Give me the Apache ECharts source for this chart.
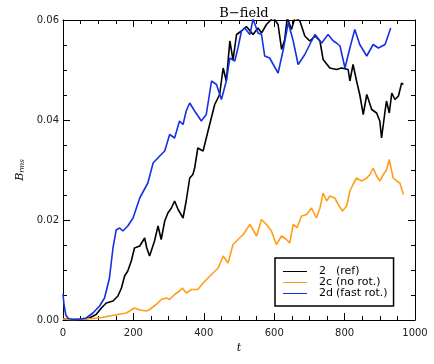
<!DOCTYPE html>
<html>
<head>
<meta charset="utf-8">
<script src="https://cdn.jsdelivr.net/npm/echarts@6/dist/echarts.min.js"></script>
<style>html,body{margin:0;padding:0;background:#fff}#c{width:434px;height:364px}</style>
</head>
<body>
<div id="c"></div>
<script>
// ---- data ----
var seriesNames = ['2', '2c', '2d'];
var seriesNotes = ['(ref)', '(no rot.)', '(fast rot.)'];
var xTicks = [0, 200, 400, 600, 800, 1000];
var yTicks = [0.00, 0.02, 0.04, 0.06];

var refT = [0,20,40,60,75,94,109,123,142,156,166,175,184,194,203,218,232,238,246,260,270,279,289,298,308,317,327,341,350,360,369,374,383,398,412,431,445,455,464,474,483,493,507,521,540,554,564,578,597,611,621,630,637,649,659,673,687,701,716,730,739,758,777,791,810,815,824,834,843,853,863,877,891,900,905,915,919,927,934,943,953,962,967];
var refB = [0.0002,0.0001,0.0001,0.0002,0.0004,0.0011,0.0024,0.0034,0.0038,0.0048,0.0064,0.0088,0.0098,0.0118,0.0144,0.0148,0.0164,0.0144,0.0128,0.0158,0.0188,0.0161,0.0198,0.0214,0.0224,0.0238,0.0221,0.0204,0.0238,0.0284,0.0291,0.0304,0.0344,0.0338,0.0378,0.0431,0.0451,0.0504,0.0478,0.0558,0.0520,0.0571,0.0578,0.0587,0.0571,0.0584,0.0574,0.0591,0.0605,0.0591,0.0541,0.0561,0.0605,0.0581,0.0605,0.0598,0.0568,0.0558,0.0568,0.0558,0.0521,0.0504,0.0501,0.0504,0.0501,0.0478,0.0511,0.0478,0.0451,0.0411,0.0451,0.0421,0.0414,0.0398,0.0364,0.0418,0.0438,0.0414,0.0454,0.0441,0.0448,0.0474,0.0471];

var noRotT = [0,20,40,60,85,110,132,155,180,203,218,237,246,265,279,294,303,317,331,339,350,365,383,398,412,426,441,455,469,483,497,512,531,550,564,578,592,606,621,635,644,654,665,678,692,706,720,730,739,749,758,772,782,794,806,815,824,834,848,863,872,881,891,900,910,919,927,938,948,957,967];
var noRotB = [0.0002,0.0001,0.0001,0.0002,0.0003,0.0005,0.0008,0.0011,0.0014,0.0024,0.0020,0.0018,0.0021,0.0031,0.0041,0.0044,0.0041,0.0051,0.0058,0.0064,0.0054,0.0061,0.0061,0.0074,0.0084,0.0094,0.0104,0.0128,0.0114,0.0151,0.0161,0.0171,0.0191,0.0168,0.0201,0.0191,0.0178,0.0151,0.0168,0.0161,0.0154,0.0191,0.0185,0.0208,0.0211,0.0224,0.0204,0.0224,0.0254,0.0238,0.0248,0.0244,0.0231,0.0218,0.0228,0.0258,0.0271,0.0284,0.0278,0.0284,0.0291,0.0304,0.0288,0.0278,0.0291,0.0300,0.0321,0.0284,0.0278,0.0274,0.0251];

var fastT = [0,3,8,15,30,50,66,85,104,118,132,142,151,161,170,184,199,218,241,256,279,289,303,317,331,341,350,360,374,393,407,422,436,450,464,474,488,497,507,516,531,540,554,564,573,587,611,625,640,654,668,687,706,716,735,753,768,777,787,801,815,829,843,863,881,896,915,931];
var fastB = [0.0052,0.0030,0.0010,0.0003,0.0001,0.0002,0.0004,0.0014,0.0028,0.0044,0.0084,0.0144,0.0180,0.0184,0.0178,0.0188,0.0204,0.0244,0.0274,0.0314,0.0331,0.0338,0.0371,0.0364,0.0398,0.0391,0.0418,0.0434,0.0418,0.0398,0.0411,0.0478,0.0471,0.0441,0.0478,0.0524,0.0518,0.0544,0.0578,0.0584,0.0571,0.0602,0.0574,0.0571,0.0528,0.0524,0.0494,0.0538,0.0595,0.0558,0.0511,0.0531,0.0558,0.0571,0.0554,0.0571,0.0558,0.0554,0.0548,0.0504,0.0544,0.0581,0.0551,0.0528,0.0551,0.0544,0.0551,0.0584];

function zip(t, b) { return t.map(function (v, i) { return [v, b[i]]; }); }

var colors = ['#000000', '#FF9E18', '#1430E6'];
var datasets = [zip(refT, refB), zip(noRotT, noRotB), zip(fastT, fastB)];

var chart = echarts.init(document.getElementById('c'), null, {renderer: 'canvas'});

function axisCommon(isX, showLabel) {
  return {
    type: 'value',
    min: isX ? xTicks[0] : yTicks[0],
    max: isX ? xTicks[xTicks.length - 1] : yTicks[yTicks.length - 1],
    interval: isX ? 200 : 0.02,
    splitLine: {show: false},
    axisLine: {show: true, onZero: false, lineStyle: {color: '#000', width: 1}},
    axisTick: {show: true, inside: true, length: 7, lineStyle: {color: '#000', width: 1}},
    minorTick: {show: true, splitNumber: 4, length: 4, lineStyle: {color: '#000', width: 1}},
    axisLabel: {
      show: showLabel,
      color: '#222',
      fontFamily: 'DejaVu Sans',
      fontSize: 10,
      margin: isX ? 8 : 4,
      formatter: function (v) { return isX ? String(v) : v.toFixed(2); }
    }
  };
}

var xBottom = axisCommon(true, true);
xBottom.position = 'bottom';
xBottom.name = 't';
xBottom.nameLocation = 'middle';
xBottom.nameGap = 20;
xBottom.nameTextStyle = {fontFamily: 'DejaVu Serif', fontStyle: 'italic', fontSize: 11, color: '#000'};
var xTop = axisCommon(true, false);
xTop.position = 'top';

var yLeft = axisCommon(false, true);
yLeft.position = 'left';
yLeft.name = '{b|B}{s|rms}';
yLeft.nameLocation = 'middle';
yLeft.nameGap = 34;
yLeft.nameTextStyle = {
  rich: {
    b: {fontFamily: 'DejaVu Serif', fontStyle: 'italic', fontSize: 11, color: '#000'},
    s: {fontFamily: 'DejaVu Serif', fontStyle: 'italic', fontSize: 7, color: '#000', verticalAlign: 'bottom', padding: [4, 0, 0, 0]}
  }
};
var yRight = axisCommon(false, false);
yRight.position = 'right';

var series = seriesNames.map(function (n, i) {
  return {
    name: n,
    type: 'line',
    xAxisIndex: 0,
    yAxisIndex: 0,
    data: datasets[i],
    symbol: 'none',
    clip: true,
    lineStyle: {color: colors[i], width: 1.6},
    itemStyle: {color: colors[i]},
    animation: false,
    z: 2 + i
  };
});

chart.setOption({
  animation: false,
  backgroundColor: '#fff',
  title: {
    text: 'B\u2212field',
    left: 239,
    textAlign: 'center',
    top: 2,
    textStyle: {fontFamily: 'DejaVu Serif', fontSize: 13, fontWeight: 'normal', color: '#000'}
  },
  grid: {left: 63, top: 20, width: 352, height: 300, containLabel: false},
  xAxis: [xBottom, xTop],
  yAxis: [yLeft, yRight],
  legend: {
    orient: 'vertical',
    left: 275,
    top: 258,
    padding: [8, 6, 7, 8],
    itemGap: 0,
    itemWidth: 24,
    itemHeight: 11,
    backgroundColor: '#fff',
    borderColor: '#000',
    borderWidth: 1.5,
    borderRadius: 0,
    data: seriesNames.map(function (n, i) { return {name: n, icon: 'path://M0,5 L24,5 L24,6 L0,6 Z'}; }),
    formatter: function (name) {
      var i = seriesNames.indexOf(name);
      return '{a|' + name + '}{b|' + seriesNotes[i] + '}';
    },
    textStyle: {
      color: '#000',
      fontFamily: 'DejaVu Sans',
      fontSize: 11,
      lineHeight: 11,
      rich: {
        a: {width: 17, padding: [0, 0, 0, 7], fontFamily: 'DejaVu Sans', fontSize: 11, color: '#000', lineHeight: 11},
        b: {fontFamily: 'DejaVu Sans', fontSize: 11, color: '#000', lineHeight: 11}
      }
    },
    selectedMode: false
  },
  series: series
});
</script>
</body>
</html>
